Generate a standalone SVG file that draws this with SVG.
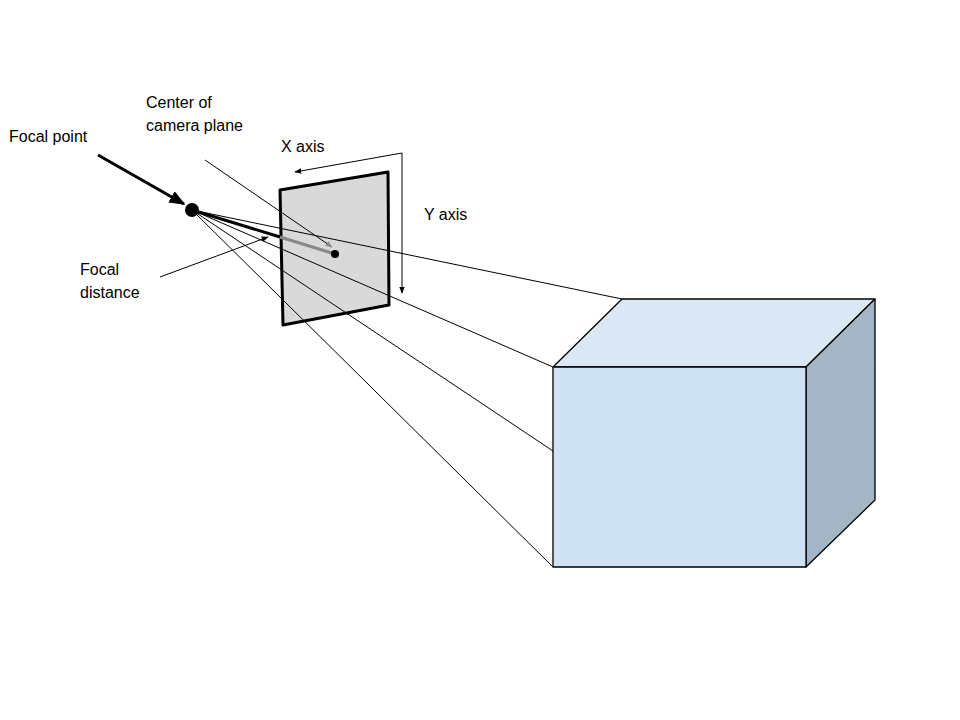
<svg xmlns="http://www.w3.org/2000/svg" width="960" height="720" viewBox="0 0 960 720">
<style>
text{font-family:"Liberation Sans",Arial,sans-serif;font-size:16px;fill:#000}
.ray{stroke:#000;stroke-width:1;fill:none}
.face{stroke:#000;stroke-width:1.3;stroke-linejoin:round}
</style>
<defs>
<marker id="ah" viewBox="0 0 10 10" refX="9" refY="5" markerWidth="7" markerHeight="7" orient="auto-start-reverse" markerUnits="userSpaceOnUse"><path d="M0,1 L10,5 L0,9 z" fill="#000"/></marker>
<marker id="ahg" viewBox="0 0 10 10" refX="9" refY="5" markerWidth="7" markerHeight="7" orient="auto" markerUnits="userSpaceOnUse"><path d="M0,1 L10,5 L0,9 z" fill="#888"/></marker>
<marker id="big" viewBox="0 0 10 10" refX="9" refY="5" markerWidth="16" markerHeight="16" orient="auto" markerUnits="userSpaceOnUse"><path d="M0,1 L10,5 L0,9 z" fill="#000"/></marker>
</defs>
<rect width="960" height="720" fill="#fff"/>
<g id="cube">
<polygon class="face" points="553,367 622,299 875,299 806,367" fill="#dae8f5"/>
<polygon class="face" points="806,367 875,299 875,500 806,567" fill="#a4b5c6"/>
<rect class="face" x="553" y="367" width="253" height="200" fill="#cfe2f3"/>
</g>
<g id="plane">
<polygon points="280,190 388,172 389,305 283,325" fill="#d9d9d9" stroke="#000" stroke-width="3" stroke-linejoin="round"/>
</g>
<g id="connectors">
<line class="ray" x1="192" y1="210" x2="622" y2="299"/>
<line class="ray" x1="192" y1="210" x2="553" y2="367"/>
<line class="ray" x1="192" y1="210" x2="553" y2="451"/>
<line class="ray" x1="192" y1="210" x2="553" y2="567"/>
<line x1="192" y1="210" x2="280" y2="237" stroke="#000" stroke-width="3"/>
<line x1="280" y1="237" x2="335" y2="254" stroke="#888" stroke-width="3"/>
<line x1="98" y1="155" x2="184" y2="204" stroke="#000" stroke-width="3" marker-end="url(#big)"/>
<line x1="205" y1="160" x2="332" y2="247" stroke="#000" stroke-width="1" marker-end="url(#ahg)"/>
<line x1="160" y1="277" x2="268" y2="237" stroke="#000" stroke-width="1" marker-end="url(#ah)"/>
<polyline points="295,172 402,153 402,293" fill="none" stroke="#000" stroke-width="1" marker-start="url(#ah)" marker-end="url(#ah)"/>
</g>
<g id="focal-point"><circle cx="192" cy="210" r="7" fill="#000"/><text x="9" y="142">Focal point</text></g>
<g id="center"><circle cx="335" cy="254" r="4" fill="#000"/><text x="146" y="108">Center of</text><text x="146" y="131">camera plane</text></g>
<g id="focal-distance"><text x="80" y="275">Focal</text><text x="80" y="298">distance</text></g>
<g id="x-axis"><text x="281" y="152">X axis</text></g>
<g id="y-axis"><text x="424" y="220">Y axis</text></g>
</svg>
